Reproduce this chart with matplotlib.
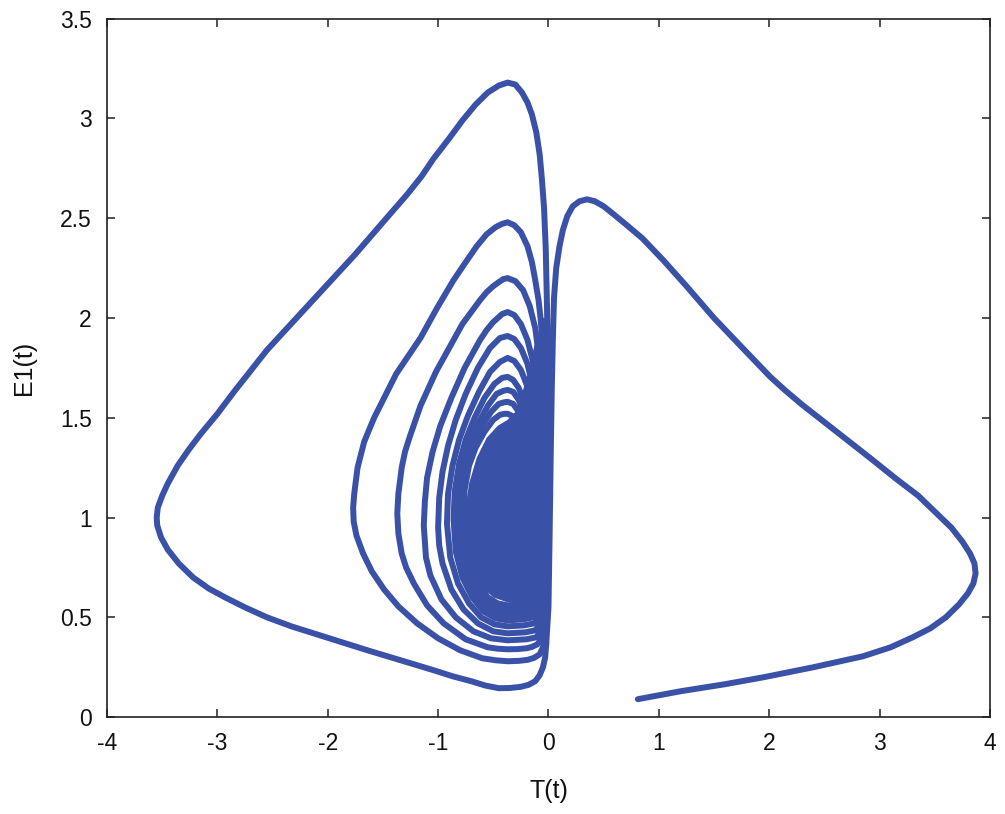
import matplotlib
matplotlib.use("Agg")
import matplotlib.pyplot as plt

plt.rcParams["font.family"] = ["Liberation Sans", "DejaVu Sans"]
plt.rcParams["axes.unicode_minus"] = False

LINE_COLOR = "#3a51a8"

# right lobe: start of the trajectory, down into the x~0 column
lobe_T = [0.81, 1.2, 1.6, 1.95, 2.4, 2.85, 3.1, 3.3, 3.46, 3.60, 3.72, 3.80,
          3.85, 3.87, 3.86, 3.82, 3.75, 3.65, 3.50, 3.35, 3.16, 2.9, 2.6, 2.3,
          2.15, 2.01, 1.88, 1.75, 1.5, 1.25, 1.04, 0.85, 0.70, 0.59, 0.50,
          0.42, 0.35, 0.28, 0.22, 0.17, 0.13, 0.10, 0.07, 0.05, 0.04, 0.03,
          0.02, 0.01, 0.0, -0.02]
lobe_E = [0.09, 0.13, 0.165, 0.20, 0.25, 0.305, 0.35, 0.40, 0.445, 0.50,
          0.565, 0.62, 0.67, 0.72, 0.77, 0.82, 0.88, 0.95, 1.03, 1.11, 1.19,
          1.305, 1.435, 1.565, 1.635, 1.705, 1.78, 1.855, 2.0, 2.16, 2.29,
          2.40, 2.47, 2.52, 2.56, 2.585, 2.595, 2.585, 2.56, 2.51, 2.44, 2.36,
          2.25, 2.10, 1.9, 1.65, 1.3, 0.9, 0.55, 0.37]

# outer left loop
outer_T = [-0.02, -0.03, -0.05, -0.08, -0.12, -0.18, -0.25, -0.35, -0.45,
           -0.57, -0.70, -0.87, -1.04, -1.34, -1.64, -1.87, -2.10, -2.33,
           -2.55, -2.75, -2.93, -3.08, -3.22, -3.35, -3.45, -3.51, -3.545,
           -3.55, -3.54, -3.50, -3.45, -3.36, -3.26, -3.15, -3.0, -2.85,
           -2.70, -2.55, -2.40, -2.25, -2.0, -1.75, -1.5, -1.28, -1.15, -1.04,
           -0.90, -0.78, -0.66, -0.55, -0.45, -0.37, -0.30, -0.24, -0.19,
           -0.15, -0.11, -0.08, -0.06, -0.04, -0.025, -0.015, -0.005, 0.0,
           -0.01, -0.02]
outer_E = [0.37, 0.30, 0.25, 0.21, 0.18, 0.162, 0.152, 0.146, 0.145, 0.158,
           0.18, 0.205, 0.235, 0.285, 0.335, 0.375, 0.415, 0.455, 0.50, 0.55,
           0.60, 0.645, 0.70, 0.77, 0.84, 0.90, 0.96, 1.0, 1.05, 1.11, 1.17,
           1.26, 1.34, 1.42, 1.52, 1.63, 1.735, 1.84, 1.93, 2.02, 2.17, 2.32,
           2.48, 2.62, 2.71, 2.80, 2.90, 2.99, 3.07, 3.13, 3.165, 3.18, 3.17,
           3.13, 3.08, 3.02, 2.93, 2.82, 2.70, 2.55, 2.35, 2.1, 1.8, 1.4, 0.9,
           0.46]

# inner loops of the spiral, outermost first
loop2_T = [-0.02, -0.03, -0.05, -0.08, -0.13, -0.19, -0.27, -0.37, -0.48,
           -0.60, -0.80, -1.00, -1.19, -1.36, -1.49, -1.60, -1.68, -1.74,
           -1.765, -1.77, -1.76, -1.73, -1.67, -1.58, -1.48, -1.38, -1.27,
           -1.16, -1.01, -0.86, -0.75, -0.65, -0.56, -0.48, -0.42, -0.37,
           -0.31, -0.25, -0.19, -0.15, -0.12, -0.09, -0.07, -0.05, -0.04,
           -0.02, -0.02, -0.03]
loop2_E = [0.46, 0.40, 0.35, 0.315, 0.297, 0.287, 0.282, 0.28, 0.285, 0.295,
           0.335, 0.395, 0.47, 0.555, 0.64, 0.73, 0.82, 0.91, 0.98, 1.05,
           1.12, 1.25, 1.38, 1.50, 1.61, 1.72, 1.81, 1.90, 2.05, 2.19, 2.28,
           2.36, 2.42, 2.455, 2.472, 2.48, 2.465, 2.43, 2.36, 2.28, 2.19,
           2.09, 1.99, 1.85, 1.7, 1.3, 0.8, 0.5]

loop3_T = [-0.03, -0.04, -0.06, -0.10, -0.15, -0.20, -0.28, -0.37, -0.46,
           -0.55, -0.75, -0.95, -1.10, -1.22, -1.29, -1.33, -1.36, -1.37,
           -1.36, -1.33, -1.30, -1.26, -1.21, -1.16, -1.09, -1.02, -0.94,
           -0.86, -0.78, -0.70, -0.62, -0.56, -0.50, -0.45, -0.41, -0.37,
           -0.30, -0.23, -0.17, -0.12, -0.08, -0.05, -0.03, -0.03, -0.04]
loop3_E = [0.50, 0.44, 0.395, 0.365, 0.352, 0.345, 0.341, 0.34, 0.343, 0.35,
           0.39, 0.47, 0.56, 0.67, 0.75, 0.82, 0.92, 1.02, 1.12, 1.25, 1.33,
           1.40, 1.48, 1.56, 1.645, 1.73, 1.81, 1.89, 1.97, 2.03, 2.09, 2.13,
           2.16, 2.18, 2.195, 2.20, 2.185, 2.14, 2.06, 1.95, 1.78, 1.55, 1.2,
           0.8, 0.53]

loop4_T = [-0.04, -0.06, -0.11, -0.20, -0.37, -0.52, -0.68, -0.84, -0.97,
           -1.07, -1.11, -1.13, -1.12, -1.10, -1.05, -0.98, -0.88, -0.76,
           -0.62, -0.56, -0.50, -0.42, -0.37, -0.31, -0.25, -0.19, -0.14,
           -0.10, -0.07, -0.05, -0.04, -0.05]
loop4_E = [0.53, 0.44, 0.40, 0.39, 0.385, 0.395, 0.43, 0.50, 0.59, 0.71,
           0.80, 0.96, 1.08, 1.20, 1.33, 1.46, 1.60, 1.75, 1.89, 1.94, 1.98,
           2.02, 2.03, 2.015, 1.97, 1.89, 1.78, 1.62, 1.4, 1.1, 0.8, 0.56]

loop5_T = [-0.05, -0.07, -0.12, -0.21, -0.37, -0.50, -0.64, -0.77, -0.88,
           -0.96, -0.99, -1.00, -0.99, -0.96, -0.91, -0.84, -0.75, -0.64,
           -0.53, -0.44, -0.37, -0.31, -0.25, -0.19, -0.14, -0.10, -0.07,
           -0.05, -0.06]
loop5_E = [0.56, 0.47, 0.435, 0.425, 0.42, 0.43, 0.47, 0.54, 0.64, 0.77,
           0.86, 0.95, 1.10, 1.23, 1.36, 1.49, 1.62, 1.75, 1.85, 1.90, 1.91,
           1.895, 1.85, 1.77, 1.65, 1.48, 1.25, 0.9, 0.6]

loop6_T = [-0.06, -0.08, -0.13, -0.22, -0.37, -0.49, -0.61, -0.72, -0.82,
           -0.89, -0.92, -0.91, -0.87, -0.81, -0.73, -0.63, -0.53, -0.44,
           -0.37, -0.31, -0.25, -0.20, -0.15, -0.11, -0.08, -0.06, -0.07]
loop6_E = [0.60, 0.50, 0.47, 0.46, 0.455, 0.465, 0.50, 0.57, 0.67, 0.80,
           0.97, 1.12, 1.26, 1.39, 1.51, 1.63, 1.73, 1.78, 1.80, 1.785, 1.74,
           1.67, 1.56, 1.40, 1.2, 0.9, 0.63]

loop7_T = [-0.07, -0.09, -0.14, -0.23, -0.37, -0.48, -0.59, -0.69, -0.78,
           -0.84, -0.86, -0.85, -0.81, -0.75, -0.67, -0.58, -0.49, -0.42,
           -0.37, -0.32, -0.27, -0.22, -0.17, -0.13, -0.10, -0.08, -0.08]
loop7_E = [0.63, 0.53, 0.50, 0.49, 0.485, 0.495, 0.53, 0.60, 0.70, 0.83,
           0.99, 1.13, 1.27, 1.39, 1.50, 1.60, 1.67, 1.70, 1.705, 1.69, 1.65,
           1.58, 1.47, 1.33, 1.15, 0.9, 0.66]

loop8_T = [-0.08, -0.10, -0.15, -0.24, -0.37, -0.47, -0.57, -0.67, -0.75,
           -0.80, -0.82, -0.81, -0.77, -0.71, -0.63, -0.55, -0.47, -0.41,
           -0.37, -0.32, -0.27, -0.22, -0.18, -0.14, -0.11, -0.09, -0.09]
loop8_E = [0.66, 0.56, 0.525, 0.515, 0.51, 0.52, 0.555, 0.62, 0.72, 0.85,
           1.00, 1.14, 1.27, 1.38, 1.48, 1.56, 1.62, 1.635, 1.64, 1.63, 1.59,
           1.52, 1.42, 1.29, 1.12, 0.9, 0.69]

loop9_T = [-0.09, -0.11, -0.16, -0.25, -0.37, -0.47, -0.56, -0.65, -0.73,
           -0.77, -0.79, -0.78, -0.74, -0.68, -0.60, -0.52, -0.45, -0.40,
           -0.37, -0.32, -0.27, -0.23, -0.19, -0.15, -0.12, -0.10, -0.10]
loop9_E = [0.69, 0.59, 0.55, 0.54, 0.535, 0.545, 0.58, 0.645, 0.74, 0.87,
           1.01, 1.14, 1.27, 1.37, 1.46, 1.53, 1.57, 1.578, 1.58, 1.57, 1.53,
           1.47, 1.38, 1.26, 1.10, 0.9, 0.72]

loop10_T = [-0.10, -0.12, -0.17, -0.26, -0.37, -0.46, -0.55, -0.63, -0.71,
            -0.75, -0.77, -0.76, -0.72, -0.66, -0.58, -0.50, -0.44, -0.40,
            -0.37, -0.33, -0.28, -0.24, -0.20, -0.16, -0.13, -0.11]
loop10_E = [0.72, 0.61, 0.575, 0.565, 0.56, 0.57, 0.60, 0.665, 0.76, 0.88,
            1.02, 1.14, 1.26, 1.35, 1.43, 1.49, 1.515, 1.52, 1.52, 1.51, 1.48,
            1.42, 1.34, 1.23, 1.08, 0.9]

# solid core where the remaining windings pile up
core_T = [0.02, 0.01, -0.05, -0.12, -0.18, -0.24, -0.30, -0.37, -0.46, -0.56,
          -0.65, -0.72, -0.76, -0.75, -0.70, -0.62, -0.50, -0.37, -0.25,
          -0.14, -0.07, -0.03, 0.0, 0.02]
core_E = [1.95, 2.0, 2.0, 1.88, 1.74, 1.62, 1.53, 1.49, 1.46, 1.40, 1.30,
          1.17, 1.02, 0.88, 0.76, 0.66, 0.60, 0.575, 0.57, 0.54, 0.48, 0.43,
          0.40, 0.6]

x_ticks = [-4, -3, -2, -1, 0, 1, 2, 3, 4]
x_tick_labels = ["-4", "-3", "-2", "-1", "0", "1", "2", "3", "4"]
y_ticks = [0, 0.5, 1, 1.5, 2, 2.5, 3, 3.5]
y_tick_labels = ["0", "0.5", "1", "1.5", "2", "2.5", "3", "3.5"]


def main() -> None:
    fig = plt.figure(figsize=(10.05, 8.14), dpi=100, facecolor="white")
    ax = fig.add_axes([0.1065, 0.119, 0.8785, 0.858])

    ax.fill(core_T, core_E, color=LINE_COLOR, lw=0)
    segments = [
        (lobe_T, lobe_E), (outer_T, outer_E), (loop2_T, loop2_E),
        (loop3_T, loop3_E), (loop4_T, loop4_E), (loop5_T, loop5_E),
        (loop6_T, loop6_E), (loop7_T, loop7_E), (loop8_T, loop8_E),
        (loop9_T, loop9_E), (loop10_T, loop10_E),
    ]
    for xs, ys in segments:
        ax.plot(xs, ys, color=LINE_COLOR, lw=4.3,
                solid_joinstyle="round", solid_capstyle="round")

    ax.set_xlim(-4, 4)
    ax.set_ylim(0, 3.5)
    ax.set_xticks(x_ticks, x_tick_labels)
    ax.set_yticks(y_ticks, y_tick_labels)
    ax.tick_params(direction="in", top=True, right=True, length=6, width=1.1,
                   labelsize=16.5, color="#222222", labelcolor="#111111")
    ax.tick_params(axis="x", pad=11)
    ax.tick_params(axis="y", pad=11)
    for spine in ax.spines.values():
        spine.set_color("#222222")
        spine.set_linewidth(1.2)

    ax.set_xlabel("T(t)", fontsize=18, color="#111111", labelpad=17)
    ax.set_ylabel("E1(t)", fontsize=18, color="#111111", labelpad=17)

    fig.savefig("out.png", dpi=100, facecolor="white")


if __name__ == "__main__":
    main()
